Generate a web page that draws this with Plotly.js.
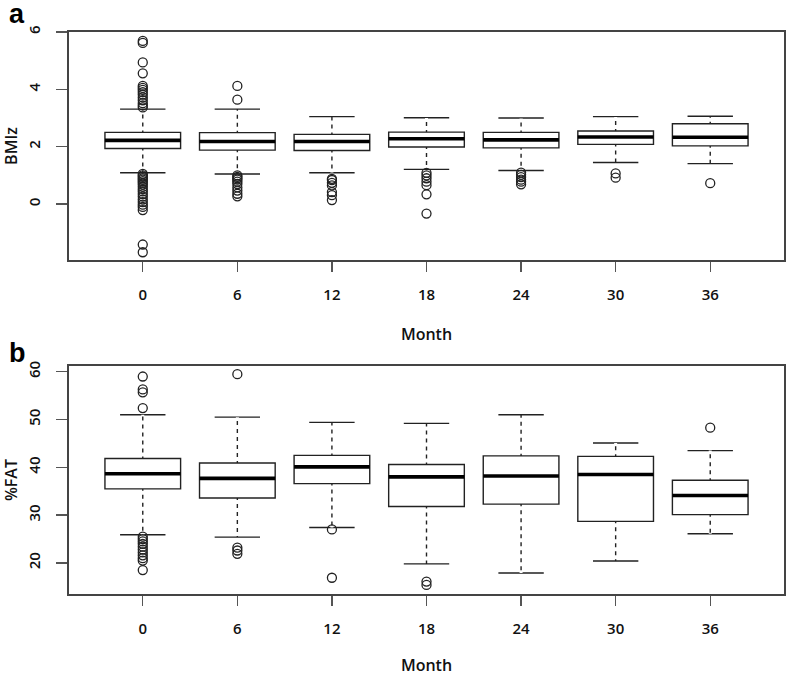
<!DOCTYPE html>
<html>
<head>
<meta charset="utf-8">
<script src="https://cdn.plot.ly/plotly-3.0.1.min.js"></script>
<style>html,body{margin:0;padding:0;background:#fff;}#chart{width:787px;height:676px;}</style>
</head>
<body>
<div id="chart"></div>
<script>
// Categories (month of follow-up)
const months = ['0', '6', '12', '18', '24', '30', '36'];

// Panel a: BMIz box statistics
const bmiQ1     = [1.94, 1.88, 1.87, 1.99, 1.96, 2.08, 2.03];
const bmiMedian = [2.22, 2.18, 2.18, 2.28, 2.24, 2.34, 2.33];
const bmiQ3     = [2.50, 2.49, 2.43, 2.51, 2.50, 2.55, 2.80];
const bmiLow    = [1.09, 1.05, 1.09, 1.21, 1.17, 1.45, 1.41];
const bmiHigh   = [3.31, 3.31, 3.05, 3.01, 3.00, 3.05, 3.06];
const bmiOutliers = [
  [5.69, 5.62, 4.94, 4.56, 4.12, 4.05, 3.98, 3.90, 3.82, 3.72, 3.62, 3.52, 3.44, 3.37,
   1.05, 1.00, 0.95, 0.90, 0.85, 0.80, 0.74, 0.68, 0.60, 0.52, 0.44, 0.35, 0.26, 0.16, 0.07, -0.02, -0.10, -0.21, -1.41, -1.68],
  [4.12, 3.64, 1.00, 0.95, 0.90, 0.85, 0.78, 0.70, 0.58, 0.47, 0.36, 0.27],
  [0.88, 0.84, 0.74, 0.65, 0.42, 0.31, 0.14],
  [1.09, 1.00, 0.90, 0.78, 0.66, 0.34, -0.33],
  [1.10, 1.02, 0.94, 0.85, 0.78, 0.69],
  [1.07, 0.92],
  [0.73]
];

// Panel b: %FAT box statistics
const fatQ1     = [35.5, 33.6, 36.6, 31.8, 32.3, 28.7, 30.1];
const fatMedian = [38.65, 37.7, 40.1, 38.0, 38.2, 38.5, 34.1];
const fatQ3     = [41.85, 40.9, 42.5, 40.6, 42.4, 42.3, 37.3];
const fatLow    = [25.9, 25.4, 27.4, 19.8, 17.9, 20.4, 26.1];
const fatHigh   = [51.0, 50.5, 49.4, 49.2, 51.0, 45.1, 43.5];
const fatOutliers = [
  [59.0, 56.3, 55.7, 52.4, 25.5, 25.0, 24.5, 24.0, 23.4, 22.8, 22.2, 21.6, 21.0, 20.5, 18.5],
  [59.5, 23.2, 22.6, 21.9],
  [27.0, 16.9],
  [16.1, 15.4],
  [],
  [],
  [48.3]
];

const pos = months.map((m, i) => i);
const BOXW = 0.8;
const INK = '#222222';

function panelTraces(q1, med, q3, lo, hi, outl, xa, ya) {
  const traces = [];
  traces.push({
    type: 'box', x: pos, q1: q1, median: med, q3: q3,
    lowerfence: lo, upperfence: hi, boxpoints: false,
    width: BOXW, whiskerwidth: 0.6,
    line: {color: INK, width: 1.4}, fillcolor: '#ffffff',
    xaxis: xa, yaxis: ya, showlegend: false, hoverinfo: 'skip'
  });
  // white dashes over whiskers -> dashed whisker look
  const wx = [], wy = [];
  pos.forEach((p, i) => {
    wx.push(p, p, null, p, p, null);
    wy.push(q3[i], hi[i], null, q1[i], lo[i], null);
  });
  traces.push({
    type: 'scatter', mode: 'lines', x: wx, y: wy,
    line: {color: '#ffffff', width: 3, dash: '0px,2px,4px,2px'},
    xaxis: xa, yaxis: ya, showlegend: false, hoverinfo: 'skip'
  });
  // thick median
  const mx = [], my = [];
  pos.forEach((p, i) => {
    mx.push(p - BOXW / 2, p + BOXW / 2, null);
    my.push(med[i], med[i], null);
  });
  traces.push({
    type: 'scatter', mode: 'lines', x: mx, y: my,
    line: {color: '#000000', width: 3.6},
    xaxis: xa, yaxis: ya, showlegend: false, hoverinfo: 'skip'
  });
  // outliers
  const ox = [], oy = [];
  outl.forEach((arr, i) => arr.forEach(v => { ox.push(pos[i]); oy.push(v); }));
  traces.push({
    type: 'scatter', mode: 'markers', x: ox, y: oy,
    marker: {symbol: 'circle-open', size: 9, color: INK, line: {width: 1.3, color: INK}},
    xaxis: xa, yaxis: ya, showlegend: false, hoverinfo: 'skip'
  });
  return traces;
}

const data = [].concat(
  panelTraces(bmiQ1, bmiMedian, bmiQ3, bmiLow, bmiHigh, bmiOutliers, 'x', 'y'),
  panelTraces(fatQ1, fatMedian, fatQ3, fatLow, fatHigh, fatOutliers, 'x2', 'y2')
);

const tickFont = {family: 'Open Sans, Liberation Sans, sans-serif', size: 15, color: '#111', weight: 600};
const titleFont = {family: 'Open Sans, Liberation Sans, sans-serif', size: 16, color: '#111', weight: 600};

function xAxis(anchor) {
  return {
    anchor: anchor, domain: [0, 1], range: [-0.78, 6.78],
    tickvals: pos, ticktext: months, ticks: 'outside', ticklen: 10, tickwidth: 1.3, tickcolor: '#555',
    showline: true, mirror: true, linecolor: '#444', linewidth: 1.7,
    showgrid: false, zeroline: false, tickfont: tickFont, ticklabelstandoff: 10,
    title: {text: 'Month', font: titleFont, standoff: 26}
  };
}
function yAxis(anchor, domain, range, tickvals, title) {
  return {
    anchor: anchor, domain: domain, range: range, tickvals: tickvals,
    ticks: 'outside', ticklen: 11, tickwidth: 1.3, tickcolor: '#555', tickangle: -90,
    showline: true, mirror: true, linecolor: '#444', linewidth: 1.7,
    showgrid: false, zeroline: false, tickfont: tickFont, ticklabelstandoff: 10,
    title: {text: title, font: titleFont, standoff: 7}
  };
}

const layout = {
  width: 787, height: 676,
  margin: {l: 69, r: 3, t: 32, b: 82},
  paper_bgcolor: '#ffffff', plot_bgcolor: '#ffffff',
  showlegend: false,
  xaxis: xAxis('y'),
  yaxis: yAxis('x', [0.5943, 1], [-1.95, 6.0], [0, 2, 4, 6], 'BMIz'),
  xaxis2: xAxis('y2'),
  yaxis2: yAxis('x2', [0, 0.4057], [13.5, 61.2], [20, 30, 40, 50, 60], '%FAT'),
  annotations: [
    {text: '<b>a</b>', xref: 'paper', yref: 'paper', x: -0.087, y: 1.062, xanchor: 'left', yanchor: 'top',
     showarrow: false, font: {family: 'Liberation Sans, Arial, sans-serif', size: 27, color: '#000'}},
    {text: '<b>b</b>', xref: 'paper', yref: 'paper', x: -0.087, y: 0.459, xanchor: 'left', yanchor: 'top',
     showarrow: false, font: {family: 'Liberation Sans, Arial, sans-serif', size: 27, color: '#000'}}
  ]
};

Plotly.newPlot('chart', data, layout, {staticPlot: true, displayModeBar: false});
</script>
</body>
</html>
